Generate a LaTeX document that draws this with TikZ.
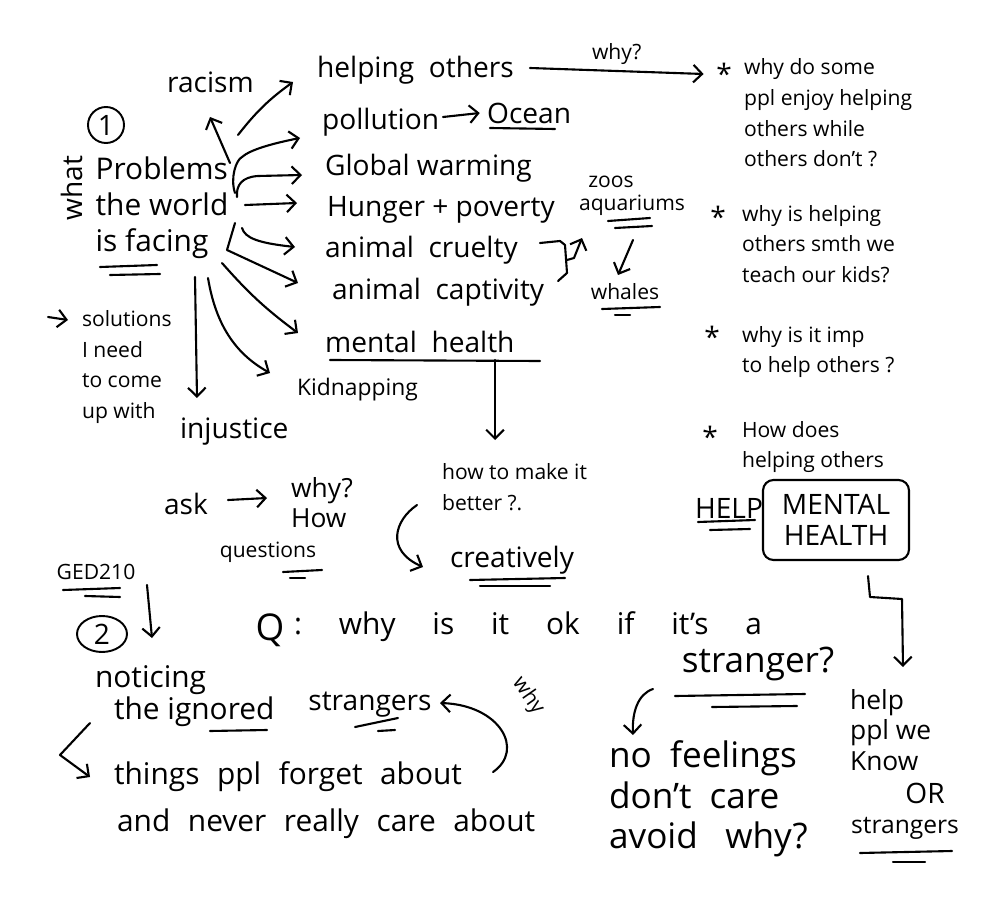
\documentclass[tikz,border=0pt]{standalone}
\usepackage{fontspec}
\setmainfont{Open Sans}
\usetikzlibrary{arrows.meta,positioning,shapes.geometric}

\tikzset{
  hand/.style={font=\fontsize{16}{18}\selectfont, inner sep=1pt},
  handbig/.style={font=\fontsize{17}{20.5}\selectfont, inner sep=1pt},
  handhuge/.style={font=\fontsize{20}{23.2}\selectfont, inner sep=1pt},
  handsmall/.style={font=\fontsize{12}{17.5}\selectfont, inner sep=1pt},
  pen/.style={line width=1.2pt, line cap=round, line join=round},
  penarrow/.style={pen, -{Straight Barb[length=5pt,width=10pt]}},
  ringed/.style={draw, line width=1.1pt, inner sep=1pt},
}
\newcommand{\gap}{\hspace{10pt}}
\newcommand{\widegap}{\hspace{21pt}}

\begin{document}
\begin{tikzpicture}[x=0.02cm,y=-0.02cm]
  \useasboundingbox[fill=white] (0,0) rectangle (1000,905);

  % part one: problems
  \node[ringed, circle, hand, minimum size=36*0.02cm] (one) at (106,125) {1};
  \node[hand, rotate=90] (what) at (72,188) {what};
  \node[handbig, align=left] (prob) at (162,208) {Problems\\the world\\is facing};
  \draw[pen] (100,267) -- (157,265);
  \draw[pen] (110,275) -- (160,274);

  \node[hand, anchor=west] (racism) at (165,82) {racism};
  \node[hand, anchor=west] (helping) at (315,70) {helping\ \ others};
  \node[hand, anchor=west] (pollution) at (320,122) {pollution};
  \node[hand, anchor=west] (ocean) at (485,113) {Ocean};
  \node[hand, anchor=west] (global) at (323,168) {Global warming};
  \node[hand, anchor=west] (hunger) at (325,210) {Hunger + poverty};
  \node[hand, anchor=west] (cruelty) at (323,250) {animal\ \ cruelty};
  \node[hand, anchor=west] (captivity) at (330,292) {animal\ \ captivity};
  \node[hand, anchor=west] (mental) at (323,342) {mental\ \ health};
  \node[hand, anchor=west, font=\fontsize{13}{16}\selectfont] (kidnap) at (295,390) {Kidnapping};
  \node[hand, anchor=west] (injustice) at (178,432) {injustice};
  \draw[pen] (490,128) -- (555,129);
  \draw[pen] (330,360) -- (540,361);

  \draw[penarrow] ([shift={(68,-45)}]prob.center) -- ([shift={(45,35)}]racism.west);
  \draw[penarrow] ([shift={(76,-73)}]prob.center) to[bend left=8] ([shift={(-22,12)}]helping.west);
  \draw[penarrow] ([shift={(73,-15)}]prob.center) .. controls (230,178) and (236,160) .. (242,157)
    .. controls (250,150) and (270,144) .. ([shift={(-20,16)}]pollution.west);
  \draw[penarrow] ([shift={(75,-11)}]prob.center) .. controls (236,185) and (242,177) .. (258,176)
    -- ([shift={(-21,7)}]global.west);
  \draw[penarrow] ([shift={(83,-3)}]prob.center) -- ([shift={(-28,-7)}]hunger.west);
  \draw[penarrow] ([shift={(80,20)}]prob.center) .. controls (245,238) and (258,243) .. ([shift={(-28,-3)}]cruelty.west);
  \draw[penarrow] ([shift={(73,15)}]prob.center) -- (227,250) -- ([shift={(-32,-9)}]captivity.west);
  \draw[penarrow] ([shift={(60,55)}]prob.center) to[bend right=6] ([shift={(-25,-9)}]mental.west);
  \draw[penarrow] ([shift={(46,70)}]prob.center) .. controls (215,320) and (232,352) .. ([shift={(-25,-17)}]kidnap.west);
  \draw[penarrow] ([shift={(33,69)}]prob.center) -- ([shift={(19,-34)}]injustice.west);
  \draw[penarrow] ([shift={(123,-5)}]pollution.west) -- ([xshift=-3pt]ocean.west);

  \node[handsmall, align=left, anchor=west] (solution) at (80,367) {solutions\\I need\\to come\\up with};
  \draw[penarrow] (48,317) -- ([shift={(-12,-47)}]solution.west);

  % animals
  \node[handsmall] (zoos) at (611,182) {zoos};
  \node[handsmall] (aqua) at (632,205) {aquariums};
  \node[handsmall] (whales) at (625,292) {whales};
  \draw[pen] (608,221) -- (650,218);
  \draw[pen] (615,228) -- (652,226);
  \draw[pen] (602,309) -- (660,307);
  \draw[pen] (615,315) -- (630,315);
  \draw[pen] (540,243) -- (560,241) -- (565,245) -- (567,273) -- (558,281);
  \draw[penarrow] (567,260) -- (574,258) -- ([shift={(-50,33)}]aqua.center);
  \draw[penarrow] ([shift={(1,35)}]aqua.center) -- ([shift={(-7,-17)}]whales.center);

  % questions on the right
  \node[hand] (star1) at (724,74) {*};
  \node[hand] (star2) at (718,217) {*};
  \node[hand] (star3) at (712,337) {*};
  \node[hand] (star4) at (710,437) {*};
  \node[handsmall, align=left, anchor=west] (qa) at (742,113) {why do some\\ppl enjoy helping\\others while\\others don't ?};
  \node[handsmall, align=left, anchor=west] (qb) at (740,244) {why is helping\\others smth we\\teach our kids?};
  \node[handsmall, align=left, anchor=west] (qc) at (740,352) {why is it imp\\to help others ?};
  \node[handsmall, align=left, anchor=west] (qd) at (740,447) {How does\\helping others};
  \draw[penarrow] ([shift={(215,-2)}]helping.west) -- node[above=2pt, handsmall] (why1) {why?} ([xshift=-6]star1.west);

  \node[hand, anchor=west] (help) at (693,508) {HELP};
  \draw[pen] (698,522) -- (755,520);
  \draw[pen] (710,530) -- (750,529);
  \node[hand, draw, pen, rounded corners=6pt, align=center, minimum width=146*0.02cm,
        minimum height=80*0.02cm] (mhbox) at (836,520) {MENTAL\\HEALTH};

  \node[hand, align=left, anchor=west, font=\fontsize{15}{17.5}\selectfont] (knowppl) at (848,730) {help\\ppl we\\Know};
  \node[hand] (orword) at (925,793) {OR};
  \node[hand, font=\fontsize{14}{16}\selectfont] (strangers) at (905,828) {strangers};
  \draw[pen] (860,853) -- (952,851);
  \draw[pen] (893,862) -- (925,862);
  \draw[penarrow] ([shift={(32,15)}]mhbox.south) -- (870,597) -- (902,599) -- ([shift={(55,-63)}]knowppl.west);

  % making it better
  \node[handsmall, align=left, anchor=west] (howto) at (440,487) {how to make it\\better ?.};
  \draw[penarrow] ([shift={(172,18)}]mental.west) -- ([shift={(55,-47)}]howto.west);
  \node[hand] (creat) at (512,560) {creatively};
  \draw[pen] (470,580) -- (565,578);
  \draw[pen] (480,586) -- (550,586);
  \draw[penarrow] ([shift={(-23,18)}]howto.west) .. controls (395,520) and (385,550) .. ([shift={(-89,7)}]creat.center);

  \node[hand] (ask) at (186,504) {ask};
  \node[hand, align=left, font=\fontsize{15}{17}\selectfont] (whyhow) at (322,503) {why?\\How};
  \node[handsmall] (questions) at (268,552) {questions};
  \draw[pen] (283,572) -- (322,570);
  \draw[pen] (290,578) -- (305,578);
  \draw[penarrow] ([shift={(42,-4)}]ask.center) -- ([shift={(-55,-5)}]whyhow.center);

  % part two: strangers
  \node[handsmall] (ged) at (96,572) {GED210};
  \draw[pen] (63,590) -- (120,588);
  \draw[pen] (85,596) -- (120,597);
  \node[ringed, ellipse, hand, minimum width=50*0.02cm, minimum height=36*0.02cm] (two) at (102,634) {2};
  \node[handbig, anchor=west] (noticing) at (93,680) {noticing};
  \draw[penarrow] ([shift={(51,13)}]ged.center) -- ([shift={(59,-42)}]noticing.west);
  \node[handbig, anchor=west] (ignored) at (112,712) {the ignored};
  \node[hand] (strangerA) at (370,705) {strangers};
  \draw[pen] (210,731) -- (267,730);
  \draw[pen] (355,727) -- (398,718);
  \draw[pen] (378,731) -- (395,730);
  \node[handbig, anchor=west] (things) at (112,777) {things\gap ppl\gap forget\gap about};
  \node[handbig, anchor=west] (never) at (115,824) {and\gap never\gap really\gap care\gap about};
  \draw[penarrow] ([shift={(-22,11)}]ignored.west) -- (60,755) -- ([shift={(-22,0)}]things.west);
  \draw[penarrow] ([shift={(381,-5)}]things.west) .. controls (525,750) and (500,705) .. ([shift={(70,-2)}]strangerA.center);
  \node[handsmall, rotate=-55] (why2) at (528,696) {why};

  \node[hand, font=\fontsize{21}{24}\selectfont] (qmark) at (270,630) {Q};
  \node[handbig, anchor=west] (qtext) at (292,627) {:\widegap why\widegap is\widegap it\widegap ok\widegap if\widegap it's\widegap a};
  \node[handhuge] (stranger) at (758,664) {stranger?};
  \draw[pen] (675,696) -- (805,694);
  \draw[pen] (712,707) -- (797,706);
  \node[handhuge, align=left, anchor=west] (feelings) at (607,799) {no\ \ feelings\\don't\ \ care\\avoid\ \ \ why?};
  \draw[penarrow] ([shift={(-105,25)}]stranger.center) .. controls (638,694) and (632,712) .. ([shift={(26,-64)}]feelings.west);
\end{tikzpicture}
\end{document}
